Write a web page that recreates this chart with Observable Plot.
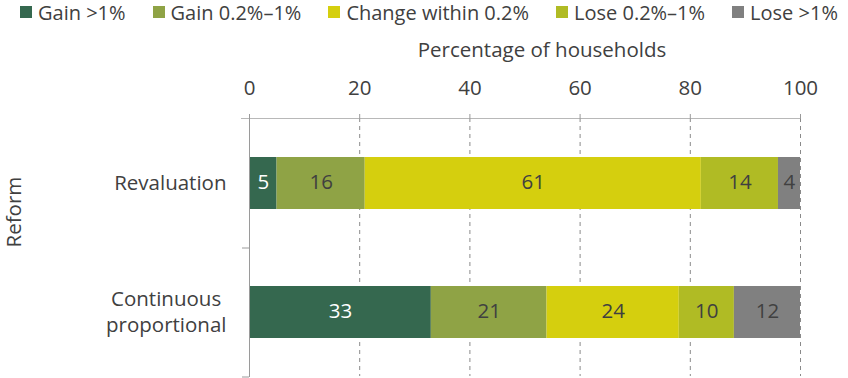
<!DOCTYPE html>
<html>
<head>
<meta charset="utf-8">
<script src="https://cdn.jsdelivr.net/npm/d3@7"></script>
<script src="https://cdn.jsdelivr.net/npm/@observablehq/plot@0.6"></script>
<style>
  body { margin: 0; background: #fff; font-family: "Open Sans", sans-serif; }
  #legend { height: 24px; display: flex; align-items: center; padding-left: 20px; font-size: 20px; color: #404040; white-space: nowrap; }
  .item { display: flex; align-items: center; margin-right: 27px; flex-shrink: 0; }
  .sw { width: 12px; height: 12px; margin-right: 6px; flex-shrink: 0; }
</style>
</head>
<body>
<div id="legend"></div>
<div id="chart"></div>
<script>
const categories = ["Revaluation", "Continuous proportional"];
const series = ["Gain >1%", "Gain 0.2%–1%", "Change within 0.2%", "Lose 0.2%–1%", "Lose >1%"];
const colors = ["#35684f", "#8fa345", "#d5cf0e", "#b0bb24", "#808080"];
const revaluation = [5, 16, 61, 14, 4];
const continuous = [33, 21, 24, 10, 12];
const xTicks = [0, 20, 40, 60, 80, 100];
const xLabel = "Percentage of households";
const yLabel = "Reform";

const rows = [];
[revaluation, continuous].forEach((vals, ci) => {
  vals.forEach((v, si) => rows.push({reform: categories[ci], series: series[si], value: v}));
});

const legend = document.getElementById("legend");
series.forEach((s, i) => {
  const it = document.createElement("div");
  it.className = "item";
  it.innerHTML = `<div class="sw" style="background:${colors[i]}"></div><span>${s}</span>`;
  legend.appendChild(it);
});

const W = 848, H = 354, mT = 94, mB = 2;
const step = (H - mT - mB) / categories.length;

const chart = Plot.plot({
  width: W, height: H,
  marginLeft: 249, marginRight: 48, marginTop: mT, marginBottom: mB,
  style: {fontFamily: "Open Sans", fontSize: "20.5px", color: "#404040", overflow: "visible"},
  x: {domain: [0, 100]},
  y: {domain: categories, paddingInner: 0.6, paddingOuter: 0.3},
  color: {domain: series, range: colors},
  marks: [
    Plot.gridX({ticks: xTicks.slice(1), stroke: "#8a8a8a", strokeOpacity: 1, strokeDasharray: "4,4"}),
    Plot.barX(rows, Plot.stackX({x: "value", y: "reform", fill: "series", z: "series", order: series})),
    Plot.text(rows, Plot.stackX({x: "value", y: "reform", z: "series", order: series, dy: -1,
      text: d => d.series === series[0] ? String(d.value) : null, fill: "white"})),
    Plot.text(rows, Plot.stackX({x: "value", y: "reform", z: "series", order: series, dy: -1,
      text: d => d.series !== series[0] ? String(d.value) : null, fill: "#404040"})),
    Plot.frame({anchor: "top", stroke: "#b8b8b8", insetLeft: -8}),
    Plot.frame({anchor: "left", stroke: "#9a9a9a"}),
    Plot.axisX({anchor: "top", ticks: xTicks, tickSize: 5, tickPadding: 19, stroke: "#9a9a9a", label: null}),
    Plot.axisY({anchor: "left", tickSize: 0, tickPadding: 23, label: null, lineHeight: 1.3, dy: -2,
      tickFormat: d => d === "Continuous proportional" ? "Continuous \nproportional" : d}),
    Plot.axisY({anchor: "left", tickSize: 7, tickFormat: () => "", label: null, dy: step / 2, stroke: "#9a9a9a"}),
    Plot.text([xLabel], {frameAnchor: "top", dy: -76, dx: 17, text: d => d, fill: "#404040"}),
    Plot.text([yLabel], {frameAnchor: "left", dx: -235, rotate: -90, text: d => d, fill: "#404040"})
  ]
});
document.getElementById("chart").appendChild(chart);
</script>
</body>
</html>
